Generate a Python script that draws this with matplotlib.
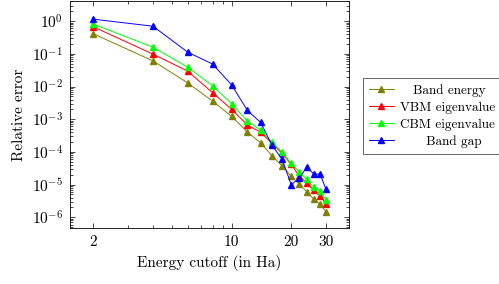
import matplotlib
matplotlib.use('Agg')
import matplotlib.pyplot as plt
from matplotlib.ticker import LogLocator, NullFormatter, FixedLocator, FixedFormatter

plt.rcParams['font.family'] = 'cmr10'
plt.rcParams['mathtext.fontset'] = 'cm'
plt.rcParams['axes.formatter.use_mathtext'] = True

# data
cutoff = [2, 4, 6, 8, 10, 12, 14, 16, 18, 20, 22, 24, 26, 28, 30]
band_energy = [0.41, 0.061, 0.0129, 0.0036, 0.00122, 0.00041, 0.00019, 7.6e-5,
               3.7e-5, 1.8e-5, 1.04e-5, 6.0e-6, 3.6e-6, 2.5e-6, 1.47e-6]
vbm = [0.67, 0.098, 0.0295, 0.0065, 0.002, 0.00067, 0.0004, 1.8e-4,
       9e-5, 4.2e-5, 1.8e-5, 1.09e-5, 6.8e-6, 4.5e-6, 2.5e-6]
cbm = [0.81, 0.16, 0.039, 0.0105, 0.003, 0.00087, 0.00047, 1.95e-4,
       9.7e-5, 4.5e-5, 2.4e-5, 1.44e-5, 8.5e-6, 6.5e-6, 3.5e-6]
band_gap = [1.15, 0.70, 0.112, 0.049, 0.0112, 0.00186, 0.0008, 1.6e-4,
            5.9e-5, 1.0e-5, 1.6e-5, 3.5e-5, 2.1e-5, 2.1e-5, 7.1e-6]

series = [
    ('Band energy', band_energy, '#808000'),
    ('VBM eigenvalue', vbm, '#ff0000'),
    ('CBM eigenvalue', cbm, '#00ff00'),
    ('Band gap', band_gap, '#0000ff'),
]
# leading spaces to roughly centre the legend text like pgfplots
label_pad = {'Band energy': '   ', 'VBM eigenvalue': '', 'CBM eigenvalue': '', 'Band gap': '      '}

fig = plt.figure(figsize=(4.99, 2.84), dpi=100)
ax = fig.add_axes([0.140, 0.196, 0.559, 0.800])

for name, vals, col in series:
    ax.plot(cutoff, vals, color=col, marker='^', markersize=4.5, linewidth=0.7,
            label=label_pad[name] + name)

ax.set_xscale('log')
ax.set_yscale('log')
ax.set_xlim(1.52, 39.1)
ax.set_ylim(4.6e-7, 4.1)

ax.xaxis.set_major_locator(FixedLocator([2, 10, 20, 30]))
ax.xaxis.set_major_formatter(FixedFormatter(['2', '10', '20', '30']))
ax.xaxis.set_minor_locator(LogLocator(base=10, subs=range(2, 10)))
ax.xaxis.set_minor_formatter(NullFormatter())
ax.yaxis.set_major_locator(LogLocator(base=10, numticks=20))
ax.yaxis.set_minor_locator(LogLocator(base=10, subs=range(2, 10), numticks=20))
ax.yaxis.set_minor_formatter(NullFormatter())

ax.tick_params(which='both', direction='in', top=True, right=True, labelsize=11, width=0.5)
ax.tick_params(which='major', length=3.5, pad=5)
ax.tick_params(which='minor', length=2)
for s in ax.spines.values():
    s.set_linewidth(0.6)

ax.set_xlabel('Energy cutoff (in Ha)', fontsize=11, labelpad=4)
ax.set_ylabel('Relative error', fontsize=11, labelpad=4)

leg = fig.legend(loc='upper left', bbox_to_anchor=(0.727, 0.724), borderaxespad=0,
                 fontsize=9.5, fancybox=False, edgecolor='0.3', framealpha=1,
                 handlelength=1.9, handletextpad=0.5, labelspacing=0.35, borderpad=0.45)
leg.get_frame().set_linewidth(0.6)

fig.savefig('out.png', dpi=100)
